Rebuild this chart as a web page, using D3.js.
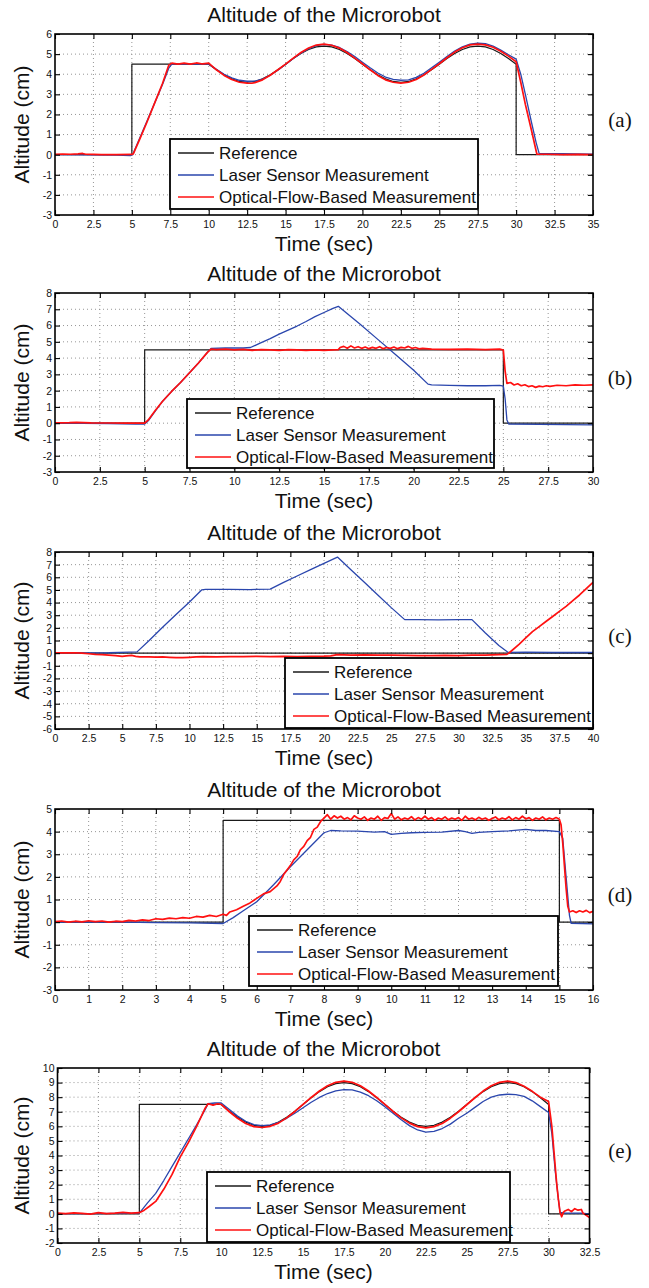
<!DOCTYPE html>
<html>
<head>
<meta charset="utf-8">
<script src="https://cdn.jsdelivr.net/npm/d3@7"></script>
<style>
  html, body { margin: 0; padding: 0; background: #fff; }
  svg { display: block; }
</style>
</head>
<body>
<svg id="fig" width="649" height="1288"></svg>
<script>
// ---------- tick labels ----------
const xTicksA = [0, 2.5, 5, 7.5, 10, 12.5, 15, 17.5, 20, 22.5, 25, 27.5, 30, 32.5, 35];
const yTicksA = [-3, -2, -1, 0, 1, 2, 3, 4, 5, 6];
const xTicksB = [0, 2.5, 5, 7.5, 10, 12.5, 15, 17.5, 20, 22.5, 25, 27.5, 30];
const yTicksB = [-3, -2, -1, 0, 1, 2, 3, 4, 5, 6, 7, 8];
const xTicksC = [0, 2.5, 5, 7.5, 10, 12.5, 15, 17.5, 20, 22.5, 25, 27.5, 30, 32.5, 35, 37.5, 40];
const yTicksC = [-6, -5, -4, -3, -2, -1, 0, 1, 2, 3, 4, 5, 6, 7, 8];
const xTicksD = [0, 1, 2, 3, 4, 5, 6, 7, 8, 9, 10, 11, 12, 13, 14, 15, 16];
const yTicksD = [-3, -2, -1, 0, 1, 2, 3, 4, 5];
const xTicksE = [0, 2.5, 5, 7.5, 10, 12.5, 15, 17.5, 20, 22.5, 25, 27.5, 30, 32.5];
const yTicksE = [-2, -1, 0, 1, 2, 3, 4, 5, 6, 7, 8, 9, 10];

const seriesNames = ["Reference", "Laser Sensor Measurement", "Optical-Flow-Based Measurement"];

// ---------- (a) sinusoidal tracking, 4.5 cm ----------
const refA = [[0,0],[5,0],[5,4.5],[10,4.5],[10.5,4.22],[11,3.97],[11.5,3.77],[12,3.64],[12.5,3.6],[13,3.64],[13.5,3.77],[14,3.97],[14.5,4.22],[15,4.5],[15.5,4.78],[16,5.03],[16.5,5.23],[17,5.36],[17.5,5.4],[18,5.36],[18.5,5.23],[19,5.03],[19.5,4.78],[20,4.5],[20.5,4.22],[21,3.97],[21.5,3.77],[22,3.64],[22.5,3.6],[23,3.64],[23.5,3.77],[24,3.97],[24.5,4.22],[25,4.5],[25.5,4.78],[26,5.03],[26.5,5.23],[27,5.36],[27.5,5.4],[28,5.36],[28.5,5.23],[29,5.03],[29.5,4.78],[30,4.5],[30,0],[35,0]];
const laserA = [[0,0],[4,-0.02],[4.9,-0.05],[5.05,0],[5.5,0.8],[6,1.7],[6.5,2.6],[7,3.5],[7.4,4.3],[7.6,4.5],[8.5,4.5],[9.5,4.52],[10,4.5],[10.5,4.25],[11,4.0],[11.5,3.82],[12,3.7],[12.5,3.65],[13,3.66],[13.5,3.76],[14,3.95],[14.5,4.2],[15,4.48],[15.5,4.78],[16,5.05],[16.5,5.27],[17,5.42],[17.5,5.48],[18,5.45],[18.5,5.33],[19,5.13],[19.5,4.88],[20,4.6],[20.5,4.32],[21,4.06],[21.5,3.86],[22,3.74],[22.5,3.7],[23,3.72],[23.5,3.84],[24,4.05],[24.5,4.32],[25,4.6],[25.5,4.88],[26,5.15],[26.5,5.36],[27,5.5],[27.5,5.55],[28,5.52],[28.5,5.4],[29,5.2],[29.5,4.97],[30,4.75],[30.3,4.0],[30.6,3.0],[31,1.6],[31.3,0.6],[31.5,0.05],[33,0.05],[35,0.02]];
const opticalA = [[0,0.02],[0.5,0.03],[1,0.02],[1.5,0.04],[1.8,0.06],[2,0.02],[2.5,0.01],[3,0],[4,0],[5,0.01],[5.1,0.05],[5.5,0.75],[6,1.65],[6.5,2.6],[7,3.55],[7.4,4.45],[7.6,4.55],[8,4.5],[8.4,4.55],[8.8,4.5],[9.2,4.56],[9.6,4.51],[10,4.55],[10.5,4.22],[11,3.94],[11.5,3.74],[12,3.6],[12.5,3.56],[12.8,3.55],[13,3.58],[13.5,3.72],[14,3.95],[14.5,4.22],[15,4.5],[15.5,4.8],[16,5.08],[16.5,5.3],[17,5.45],[17.5,5.5],[18,5.44],[18.5,5.3],[19,5.08],[19.5,4.8],[20,4.52],[20.5,4.22],[21,3.94],[21.5,3.72],[22,3.6],[22.5,3.56],[23,3.6],[23.5,3.74],[24,3.96],[24.5,4.24],[25,4.52],[25.5,4.82],[26,5.1],[26.5,5.32],[27,5.46],[27.5,5.5],[28,5.46],[28.5,5.34],[29,5.14],[29.5,4.9],[30,4.62],[30.3,3.6],[30.6,2.5],[31,1.2],[31.35,0.02],[32,0.02],[33,0],[34,0.01],[35,0]];

// ---------- (b) step with laser disturbance ----------
const refB = [[0,0],[5,0],[5,4.5],[25,4.5],[25,0],[30,0]];
const laserB = [[0,0],[3,-0.02],[4.5,-0.06],[5,-0.05],[5.2,0.15],[5.6,0.75],[6,1.35],[6.5,1.95],[7,2.5],[7.5,3.1],[8,3.7],[8.5,4.35],[8.7,4.6],[9.5,4.62],[10.5,4.62],[10.9,4.65],[11.5,4.95],[12,5.2],[12.5,5.47],[13,5.72],[13.5,5.97],[14,6.25],[14.5,6.55],[15,6.8],[15.5,7.05],[15.8,7.18],[16,7.0],[17,6.1],[18,5.15],[19,4.2],[20,3.25],[20.8,2.4],[21,2.35],[22,2.32],[23,2.3],[24,2.3],[24.8,2.32],[25,2.28],[25.1,1.5],[25.2,0.2],[25.3,-0.05],[27,-0.07],[30,-0.1]];
const opticalB = [[0,0.02],[0.8,0.03],[1.2,0.05],[2,0.02],[3,0.01],[4,0],[5,0],[5.2,0.2],[5.6,0.8],[6,1.35],[6.5,1.95],[7,2.5],[7.5,3.1],[8,3.7],[8.5,4.35],[8.7,4.55],[9,4.52],[9.5,4.55],[10,4.5],[10.5,4.53],[11,4.48],[11.5,4.52],[12,4.5],[12.5,4.47],[13,4.52],[13.5,4.5],[14,4.48],[14.5,4.51],[15,4.47],[15.5,4.5],[15.8,4.52],[15.9,4.65],[16.1,4.72],[16.3,4.6],[16.5,4.75],[16.7,4.62],[16.9,4.7],[17.1,4.6],[17.3,4.68],[17.5,4.58],[17.7,4.66],[17.9,4.6],[18.1,4.7],[18.3,4.58],[18.5,4.65],[18.7,4.6],[18.9,4.68],[19.1,4.58],[19.3,4.66],[19.5,4.62],[19.7,4.72],[19.9,4.6],[20.1,4.65],[20.3,4.57],[20.5,4.6],[21,4.55],[22,4.53],[23,4.55],[24,4.52],[24.8,4.55],[25,4.5],[25.1,3.2],[25.2,2.45],[25.4,2.5],[25.6,2.35],[25.8,2.42],[26,2.3],[26.2,2.36],[26.4,2.25],[26.6,2.3],[26.8,2.2],[27,2.28],[27.2,2.24],[27.4,2.3],[27.6,2.26],[28,2.33],[28.5,2.3],[29,2.35],[29.5,2.33],[30,2.35]];

// ---------- (c) zero reference, laser drift ----------
const refC = [[0,0],[40,0]];
const laserC = [[0,0.02],[2,0.02],[4,0.03],[5.5,0.08],[6.1,0.1],[7,1.0],[8,2.05],[9,3.05],[10,4.05],[10.9,5.0],[11.2,5.05],[13,5.05],[14.5,5.03],[16,5.07],[17,5.6],[18,6.1],[19,6.6],[20,7.1],[21,7.6],[22,6.6],[23,5.6],[24,4.6],[25,3.6],[26,2.65],[27,2.65],[28.5,2.63],[30,2.65],[31,2.65],[32,1.6],[33,0.6],[33.7,0.05],[35,0.08],[37,0.05],[40,0.05]];
const opticalC = [[0,0.02],[1,0.02],[1.5,0.03],[2,0],[2.5,-0.05],[3,-0.1],[3.5,-0.12],[4,-0.15],[4.5,-0.2],[5,-0.25],[5.3,-0.22],[5.7,-0.18],[6,-0.25],[6.3,-0.3],[7,-0.3],[7.5,-0.32],[8,-0.3],[8.5,-0.33],[9,-0.35],[9.5,-0.36],[10,-0.33],[10.5,-0.3],[11,-0.28],[12,-0.3],[13,-0.27],[14,-0.28],[15,-0.25],[16,-0.27],[17,-0.25],[18,-0.27],[19,-0.25],[20,-0.24],[20.5,-0.22],[21,-0.12],[22,-0.15],[23,-0.14],[24,-0.16],[25,-0.15],[26,-0.17],[27,-0.2],[28,-0.2],[29,-0.18],[30,-0.2],[31,-0.15],[32,-0.15],[33,-0.12],[33.6,-0.1],[33.8,0.05],[34.5,0.7],[35,1.2],[35.5,1.7],[36,2.1],[36.5,2.5],[37,2.9],[37.5,3.3],[38,3.7],[38.5,4.15],[39,4.6],[39.5,5.1],[40,5.6]];

// ---------- (d) step response ----------
const refD = [[0,0],[5,0],[5,4.5],[15,4.5],[15,0],[16,0]];
const laserD = [[0,0],[2,0],[3,-0.02],[4,-0.03],[5,-0.06],[5.3,0.2],[5.6,0.5],[6,0.9],[6.5,1.65],[7,2.45],[7.5,3.2],[8,3.95],[8.2,4.05],[8.5,4.03],[9,4.02],[9.5,3.98],[9.8,4.0],[10,3.88],[10.3,3.92],[10.6,3.95],[11,3.97],[11.5,3.98],[12,4.05],[12.2,4.0],[12.4,3.92],[12.6,3.97],[13,4.0],[13.5,4.03],[14,4.1],[14.3,4.05],[14.6,4.05],[15,4.0],[15.1,3.7],[15.2,2.0],[15.3,0.3],[15.35,-0.05],[16,-0.08]];
const opticalD = [[0,0.02],[0.2,0.05],[0.4,0.0],[0.6,0.04],[0.8,0.01],[1.0,0.06],[1.2,0.02],[1.4,0.05],[1.6,0.0],[1.8,0.04],[2.0,0.02],[2.2,0.08],[2.4,0.05],[2.6,0.1],[2.8,0.07],[3.0,0.15],[3.2,0.12],[3.4,0.18],[3.6,0.15],[3.8,0.2],[4.0,0.17],[4.2,0.25],[4.4,0.22],[4.6,0.3],[4.8,0.25],[5.0,0.35],[5.1,0.3],[5.2,0.45],[5.4,0.55],[5.6,0.7],[5.8,0.85],[6.0,1.05],[6.2,1.25],[6.4,1.35],[6.6,1.6],[6.7,1.8],[6.8,2.1],[7.0,2.5],[7.1,2.75],[7.2,2.9],[7.3,3.2],[7.4,3.35],[7.5,3.6],[7.6,3.75],[7.7,4.1],[7.8,4.2],[7.9,4.45],[8.0,4.6],[8.1,4.75],[8.2,4.55],[8.3,4.7],[8.4,4.6],[8.5,4.68],[8.6,4.55],[8.7,4.62],[8.8,4.52],[8.9,4.7],[9.0,4.6],[9.1,4.55],[9.2,4.65],[9.3,4.5],[9.4,4.6],[9.5,4.55],[9.6,4.68],[9.7,4.5],[9.8,4.62],[9.9,4.58],[10.0,4.8],[10.1,4.55],[10.2,4.65],[10.3,4.52],[10.4,4.6],[10.5,4.55],[10.6,4.66],[10.7,4.52],[10.8,4.62],[10.9,4.55],[11.0,4.68],[11.1,4.55],[11.2,4.62],[11.3,4.5],[11.4,4.6],[11.5,4.55],[11.6,4.65],[11.7,4.52],[11.8,4.6],[11.9,4.55],[12.0,4.62],[12.1,4.5],[12.2,4.68],[12.3,4.55],[12.4,4.6],[12.5,4.52],[12.6,4.63],[12.7,4.55],[12.8,4.6],[12.9,4.5],[13.0,4.58],[13.1,4.65],[13.2,4.52],[13.3,4.6],[13.4,4.55],[13.5,4.66],[13.6,4.52],[13.7,4.62],[13.8,4.55],[13.9,4.68],[14.0,4.56],[14.1,4.62],[14.2,4.5],[14.3,4.6],[14.4,4.55],[14.5,4.65],[14.6,4.52],[14.7,4.6],[14.8,4.55],[14.9,4.62],[15.0,4.55],[15.05,4.3],[15.1,3.5],[15.15,2.5],[15.2,1.5],[15.25,0.7],[15.3,0.45],[15.4,0.5],[15.5,0.42],[15.6,0.5],[15.7,0.45],[15.8,0.52],[15.9,0.42],[16,0.48]];

// ---------- (e) sinusoidal tracking, 7.5 cm ----------
const refE = [[0,0],[5,0],[5,7.5],[10,7.5],[10.5,7.04],[11,6.62],[11.5,6.29],[12,6.07],[12.5,6],[13,6.07],[13.5,6.29],[14,6.62],[14.5,7.04],[15,7.5],[15.5,7.96],[16,8.38],[16.5,8.71],[17,8.93],[17.5,9],[18,8.93],[18.5,8.71],[19,8.38],[19.5,7.96],[20,7.5],[20.5,7.04],[21,6.62],[21.5,6.29],[22,6.07],[22.5,6],[23,6.07],[23.5,6.29],[24,6.62],[24.5,7.04],[25,7.5],[25.5,7.96],[26,8.38],[26.5,8.71],[27,8.93],[27.5,9],[28,8.93],[28.5,8.71],[29,8.38],[29.5,7.96],[30,7.5],[30,0],[32.5,0]];
const laserE = [[0,0.02],[2,0.02],[4,0.03],[5,0.05],[5.5,0.75],[6,1.4],[6.5,2.3],[7,3.25],[7.5,4.2],[8,5.15],[8.5,6.1],[9,7.1],[9.2,7.55],[9.6,7.6],[10,7.6],[10.5,7.15],[11,6.7],[11.5,6.35],[12,6.12],[12.5,6.05],[13,6.1],[13.5,6.28],[14,6.55],[14.5,6.9],[15,7.28],[15.5,7.65],[16,7.98],[16.5,8.25],[17,8.43],[17.5,8.52],[18,8.5],[18.5,8.35],[19,8.1],[19.5,7.75],[20,7.35],[20.5,6.9],[21,6.45],[21.5,6.05],[22,5.75],[22.5,5.6],[23,5.65],[23.5,5.85],[24,6.15],[24.5,6.55],[25,6.9],[25.5,7.3],[26,7.7],[26.5,8.0],[27,8.15],[27.5,8.2],[28,8.18],[28.5,8.05],[29,7.75],[29.5,7.35],[30,6.95],[30.2,5.5],[30.4,3.0],[30.6,1.0],[30.7,0.1],[31,0.05],[32,0.05],[32.5,0.0]];
const opticalE = [[0,0.05],[0.5,0.02],[1,0.06],[1.5,0.03],[2,-0.02],[2.5,0.08],[3,0.02],[3.5,0.05],[4,0.1],[4.5,0.05],[5,0.08],[5.3,0.25],[5.6,0.5],[6,0.85],[6.5,1.7],[7,2.7],[7.5,3.9],[8,4.9],[8.5,6.0],[9,7.2],[9.2,7.55],[9.5,7.45],[9.8,7.55],[10,7.5],[10.5,7.0],[11,6.55],[11.5,6.2],[12,5.98],[12.5,5.92],[13,6.0],[13.5,6.22],[14,6.58],[14.5,7.02],[15,7.5],[15.5,7.98],[16,8.42],[16.5,8.78],[17,9.02],[17.5,9.1],[18,9.02],[18.5,8.78],[19,8.42],[19.5,7.98],[20,7.5],[20.5,7.02],[21,6.58],[21.5,6.22],[22,5.98],[22.5,5.9],[23,5.98],[23.5,6.2],[24,6.56],[24.5,7.0],[25,7.48],[25.5,7.96],[26,8.42],[26.5,8.78],[27,9.02],[27.5,9.1],[28,9.0],[28.5,8.75],[29,8.4],[29.5,8.0],[30,7.7],[30.2,6.0],[30.35,4.0],[30.5,2.0],[30.6,1.0],[30.7,0.1],[30.8,-0.2],[30.9,0.1],[31,0.2],[31.2,0.3],[31.4,0.15],[31.6,0.35],[31.8,0.25],[32,0.3],[32.1,0.05],[32.3,-0.1],[32.5,-0.25]];

// ---------- layout of the five stacked panels ----------
const SANS = "'Liberation Sans', Arial, Helvetica, sans-serif";
const COLORS = ["#1a1a1a", "#2a46ad", "#ff1010"];
const WIDTHS = [1.2, 1.3, 1.7];

const panels = [
  { tag: "(a)", x0: 55, x1: 593, y0: 34, y1: 215, xDomain: [0, 35], yDomain: [-3, 6],
    xTicks: xTicksA, yTicks: yTicksA, series: [refA, laserA, opticalA], legend: [170, 139, 478, 209] },
  { tag: "(b)", x0: 55, x1: 593, y0: 293, y1: 472, xDomain: [0, 30], yDomain: [-3, 8],
    xTicks: xTicksB, yTicks: yTicksB, series: [refB, laserB, opticalB], legend: [187, 399, 494, 468] },
  { tag: "(c)", x0: 55, x1: 593, y0: 552, y1: 729, xDomain: [0, 40], yDomain: [-6, 8],
    xTicks: xTicksC, yTicks: yTicksC, series: [refC, laserC, opticalC], legend: [285, 658, 593, 728] },
  { tag: "(d)", x0: 55, x1: 593, y0: 809, y1: 990, xDomain: [0, 16], yDomain: [-3, 5],
    xTicks: xTicksD, yTicks: yTicksD, series: [refD, laserD, opticalD], legend: [249, 916, 558, 986] },
  { tag: "(e)", x0: 57.5, x1: 589.5, y0: 1068, y1: 1243, xDomain: [0, 32.5], yDomain: [-2, 10],
    xTicks: xTicksE, yTicks: yTicksE, series: [refE, laserE, opticalE], legend: [207, 1172, 510, 1242] }
];

const svg = d3.select("#fig");

panels.forEach((p, i) => {
  const x = d3.scaleLinear().domain(p.xDomain).range([p.x0, p.x1]);
  const y = d3.scaleLinear().domain(p.yDomain).range([p.y1, p.y0]);
  const g = svg.append("g");

  // dotted grid
  g.selectAll(null).data(p.xTicks.slice(1, -1)).join("line")
    .attr("x1", d => x(d)).attr("x2", d => x(d))
    .attr("y1", p.y0).attr("y2", p.y1)
    .attr("stroke", "#8a8a8a").attr("stroke-width", 0.9).attr("stroke-dasharray", "1,3");
  g.selectAll(null).data(p.yTicks.slice(1, -1)).join("line")
    .attr("x1", p.x0).attr("x2", p.x1)
    .attr("y1", d => y(d)).attr("y2", d => y(d))
    .attr("stroke", "#8a8a8a").attr("stroke-width", 0.9).attr("stroke-dasharray", "1,3");

  // data lines, clipped to the axes
  const clipId = "clip" + i;
  svg.append("clipPath").attr("id", clipId).append("rect")
    .attr("x", p.x0).attr("y", p.y0).attr("width", p.x1 - p.x0).attr("height", p.y1 - p.y0);
  const line = d3.line().x(d => x(d[0])).y(d => y(d[1]));
  const lines = g.append("g").attr("clip-path", `url(#${clipId})`);
  p.series.forEach((s, k) => {
    lines.append("path").datum(s).attr("d", line)
      .attr("fill", "none").attr("stroke", COLORS[k]).attr("stroke-width", WIDTHS[k])
      .attr("stroke-linejoin", "round");
  });

  // axes: inward ticks on all four sides
  const tl = 5;
  const axB = d3.axisBottom(x).tickValues(p.xTicks).tickSizeInner(-tl).tickSizeOuter(0).tickPadding(6).tickFormat(d => String(d));
  const axT = d3.axisTop(x).tickValues(p.xTicks).tickSizeInner(-tl).tickSizeOuter(0).tickFormat("");
  const axL = d3.axisLeft(y).tickValues(p.yTicks).tickSizeInner(-tl).tickSizeOuter(0).tickPadding(3).tickFormat(d => String(d));
  const axR = d3.axisRight(y).tickValues(p.yTicks).tickSizeInner(-tl).tickSizeOuter(0).tickFormat("");
  const styleAxis = sel => {
    sel.select(".domain").remove();
    sel.selectAll(".tick line").attr("stroke", "#000").attr("stroke-width", 1.1);
    sel.selectAll("text").attr("font-family", SANS).attr("font-size", 10.5).attr("fill", "#111");
  };
  g.append("g").attr("transform", `translate(0,${p.y1})`).call(axB).call(styleAxis);
  g.append("g").attr("transform", `translate(0,${p.y0})`).call(axT).call(styleAxis);
  g.append("g").attr("transform", `translate(${p.x0},0)`).call(axL).call(styleAxis);
  g.append("g").attr("transform", `translate(${p.x1},0)`).call(axR).call(styleAxis);

  // frame
  g.append("rect").attr("x", p.x0).attr("y", p.y0)
    .attr("width", p.x1 - p.x0).attr("height", p.y1 - p.y0)
    .attr("fill", "none").attr("stroke", "#000").attr("stroke-width", 1.6);

  // legend
  const [lx0, ly0, lx1, ly1] = p.legend;
  const lg = g.append("g");
  lg.append("rect").attr("x", lx0).attr("y", ly0).attr("width", lx1 - lx0).attr("height", ly1 - ly0)
    .attr("fill", "#fff").attr("stroke", "#000").attr("stroke-width", 1.8);
  seriesNames.forEach((name, k) => {
    const cy = ly0 + 14 + k * 22;
    lg.append("line").attr("x1", lx0 + 8).attr("x2", lx0 + 44).attr("y1", cy).attr("y2", cy)
      .attr("stroke", COLORS[k]).attr("stroke-width", 1.5);
    lg.append("text").attr("x", lx0 + 49).attr("y", cy).attr("dy", "0.36em")
      .attr("font-family", SANS).attr("font-size", 17).attr("fill", "#111").text(name);
  });

  // title and axis labels
  const cx = (p.x0 + p.x1) / 2;
  g.append("text").attr("x", cx).attr("y", p.y0 - 12).attr("text-anchor", "middle")
    .attr("font-family", SANS).attr("font-size", 21).attr("fill", "#111")
    .text("Altitude of the Microrobot");
  g.append("text").attr("x", cx).attr("y", p.y1 + 36).attr("text-anchor", "middle")
    .attr("font-family", SANS).attr("font-size", 21).attr("fill", "#111")
    .text("Time (sec)");
  g.append("text").attr("transform", `translate(28.5,${(p.y0 + p.y1) / 2}) rotate(-90)`)
    .attr("text-anchor", "middle")
    .attr("font-family", SANS).attr("font-size", 21).attr("fill", "#111")
    .text("Altitude (cm)");

  // panel letter
  g.append("text").attr("x", 620).attr("y", (p.y0 + p.y1) / 2 - 5).attr("dy", "0.35em")
    .attr("text-anchor", "middle")
    .attr("font-family", "'Liberation Serif', 'Times New Roman', serif").attr("font-size", 21).attr("fill", "#111")
    .text(p.tag);
});
</script>
</body>
</html>
